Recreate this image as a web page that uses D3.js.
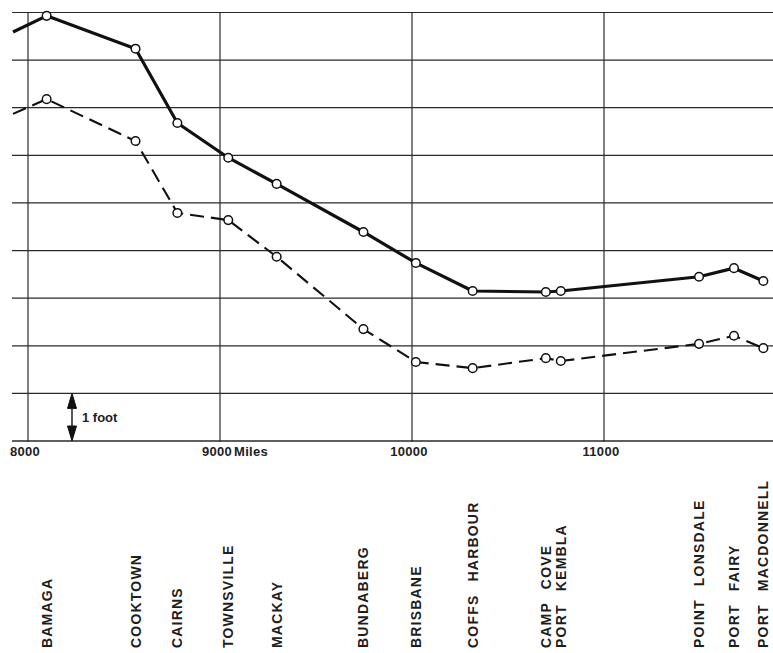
<!DOCTYPE html>
<html>
<head>
<meta charset="utf-8">
<script src="https://cdn.jsdelivr.net/npm/d3@7"></script>
<style>
  body { margin: 0; background: #fff; }
  svg { display: block; }
  .grid line { stroke: #2a2a2a; stroke-width: 1.2; }
  .tick-label { font-family: "Liberation Sans", Arial, sans-serif; font-weight: bold; font-size: 13px; fill: #222; letter-spacing: 0.3px; }
  .town { font-family: "Liberation Sans", Arial, sans-serif; font-weight: bold; font-size: 14px; fill: #1e1e1e; letter-spacing: 1.2px; word-spacing: 8px; }
</style>
</head>
<body>
<script>
'use strict';

// mileage along the coast and the places measured
const towns = ["BAMAGA", "COOKTOWN", "CAIRNS", "TOWNSVILLE", "MACKAY", "BUNDABERG", "BRISBANE",
  "COFFS HARBOUR", "CAMP COVE", "PORT KEMBLA", "POINT LONSDALE", "PORT FAIRY", "PORT MACDONNELL"];
const miles = [8097, 8560, 8778, 9043, 9295, 9747, 10020, 10316, 10697, 10775, 11495, 11677, 11830];

// heights in feet, solid (upper) and dashed (lower) curves
const upperFeet = [8.93, 8.24, 6.68, 5.95, 5.40, 4.39, 3.74, 3.15, 3.13, 3.15, 3.45, 3.63, 3.36];
const lowerFeet = [7.18, 6.30, 4.79, 4.64, 3.87, 2.35, 1.66, 1.53, 1.74, 1.68, 2.04, 2.21, 1.95];

// both curves run in from off the left edge of the sheet
const leadInMile = 7922;
const upperLeadIn = 8.59;
const lowerLeadIn = 6.87;

const xTicks = [8000, 9000, 10000, 11000];
const xTickLabels = ["8000", "9000", "10000", "11000"];
const yTicks = [0, 1, 2, 3, 4, 5, 6, 7, 8, 9];

const W = 773, H = 653;
const plot = { left: 12, right: 773, top: 12.5, bottom: 441 };

const x = d3.scaleLinear().domain([8000, 11000]).range([28, 604]);
const y = d3.scaleLinear().domain([0, 9]).range([plot.bottom, plot.top]);

const svg = d3.select('body').append('svg')
  .attr('width', W)
  .attr('height', H);

// grid
const grid = svg.append('g').attr('class', 'grid');
grid.selectAll('line.h')
  .data(yTicks)
  .enter().append('line')
  .attr('class', 'h')
  .attr('x1', plot.left).attr('x2', plot.right)
  .attr('y1', d => y(d)).attr('y2', d => y(d))
  .style('stroke-width', d => d === 0 ? 1.6 : 1.2);
grid.selectAll('line.v')
  .data(xTicks)
  .enter().append('line')
  .attr('class', 'v')
  .attr('x1', d => x(d)).attr('x2', d => x(d))
  .attr('y1', plot.top).attr('y2', plot.bottom + 1);

// x tick labels
const tl = svg.selectAll('text.tick-label')
  .data(xTicks)
  .enter().append('text')
  .attr('class', 'tick-label')
  .attr('x', d => x(d) - 3)
  .attr('y', 456)
  .attr('text-anchor', 'middle')
  .text((d, i) => xTickLabels[i]);

// "Miles" after the 9000 label
const nineK = tl.filter(d => d === 9000);
const w9 = nineK.node().getComputedTextLength();
svg.append('text')
  .attr('class', 'tick-label')
  .attr('x', x(9000) - 3 + w9 / 2 + 2)
  .attr('y', 456)
  .text('Miles');

// 1 foot scale arrow
const ax = 72;
const head = 15, hw = 4.5;
const arrow = svg.append('g').attr('fill', '#111').attr('stroke', '#111');
arrow.append('line')
  .attr('x1', ax).attr('x2', ax)
  .attr('y1', y(1) + head).attr('y2', y(0) - head)
  .attr('stroke-width', 1.4);
arrow.append('path')
  .attr('d', `M${ax},${y(1)} L${ax - hw},${y(1) + head} L${ax + hw},${y(1) + head}Z`);
arrow.append('path')
  .attr('d', `M${ax},${y(0)} L${ax - hw},${y(0) - head} L${ax + hw},${y(0) - head}Z`);
svg.append('text')
  .attr('class', 'tick-label')
  .attr('x', ax + 10)
  .attr('y', (y(0) + y(1)) / 2 + 5)
  .style('font-size', '13px')
  .style('letter-spacing', '0px')
  .text('1 foot');

// curves
const line = d3.line()
  .x(d => x(d[0]))
  .y(d => y(d[1]));

const upper = [[leadInMile, upperLeadIn]].concat(miles.map((m, i) => [m, upperFeet[i]]));
const lower = [[leadInMile, lowerLeadIn]].concat(miles.map((m, i) => [m, lowerFeet[i]]));

svg.append('path')
  .datum(lower)
  .attr('d', line)
  .attr('fill', 'none')
  .attr('stroke', '#111')
  .attr('stroke-width', 2.1)
  .attr('stroke-dasharray', '14,7');

svg.append('path')
  .datum(upper)
  .attr('d', line)
  .attr('fill', 'none')
  .attr('stroke', '#111')
  .attr('stroke-width', 3.2)
  .attr('stroke-linejoin', 'round');

// open circle markers
[upperFeet, lowerFeet].forEach(series => {
  svg.append('g').selectAll('circle')
    .data(miles)
    .enter().append('circle')
    .attr('cx', d => x(d))
    .attr('cy', (d, i) => y(series[i]))
    .attr('r', 4.3)
    .attr('fill', '#fff')
    .attr('stroke', '#111')
    .attr('stroke-width', 1.5);
});

// place names, rotated
svg.selectAll('text.town')
  .data(towns)
  .enter().append('text')
  .attr('class', 'town')
  .attr('transform', (d, i) => `translate(${x(miles[i])},648) rotate(-90)`)
  .attr('dy', '0.36em')
  .text(d => d);
</script>
</body>
</html>
